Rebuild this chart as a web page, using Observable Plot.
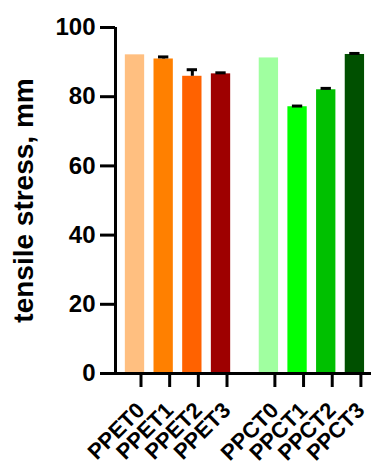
<!DOCTYPE html>
<html>
<head>
<meta charset="utf-8">
<script src="https://cdn.jsdelivr.net/npm/d3@7"></script>
<script src="https://cdn.jsdelivr.net/npm/@observablehq/plot@0.6"></script>
<style>
  html, body { margin: 0; padding: 0; background: #fff; }
</style>
</head>
<body>
<div id="chart"></div>
<script>
// ---- data ----
const labels = ["PPET0", "PPET1", "PPET2", "PPET3", "PPCT0", "PPCT1", "PPCT2", "PPCT3"];
const groups = ["PPET", "PPET", "PPET", "PPET", "PPCT", "PPCT", "PPCT", "PPCT"];
const means  = [92.1, 90.9, 85.9, 86.6, 91.2, 77.1, 82.0, 92.2];
const errors = [null, 0.6, 1.9, 0.3, null, 0.2, 0.4, 0.3];
const colors = ["#FFBF80", "#FF8000", "#FF6200", "#9E0000", "#A0FFA0", "#00FF00", "#00C000", "#005000"];
const yTicks = [0, 20, 40, 60, 80, 100];

// ---- layout (not data) ----
const groupGap = 0.67;          // extra space between the two groups, in bar steps
const barHalf = 0.337;          // half bar width, in bar steps
const capHalf = 0.18;           // half error-cap width, in bar steps
const groupOrder = ["PPET", "PPCT"];

const rows = labels.map((label, i) => ({
  label,
  group: groups[i],
  mean: means[i],
  err: errors[i],
  pos: i + groupOrder.indexOf(groups[i]) * groupGap
}));
const posToLabel = new Map(rows.map(d => [d.pos, d.label]));
const errRows = rows.filter(d => d.err != null);

const font = "'Liberation Sans', Arial, Helvetica, sans-serif";

const chart = Plot.plot({
  width: 372,
  height: 463,
  marginLeft: 115,
  marginRight: 1,
  marginTop: 27,
  marginBottom: 90,
  style: { fontFamily: font, background: "#fff", overflow: "visible" },
  x: { type: "linear", domain: [-0.68, 8.249], axis: null },
  y: { domain: [0, 100], axis: null },
  color: { type: "ordinal", domain: labels, range: colors },
  marks: [
    Plot.rectY(rows, {
      x1: d => d.pos - barHalf,
      x2: d => d.pos + barHalf,
      y: "mean",
      fill: "label"
    }),
    Plot.ruleX(errRows, { x: "pos", y1: "mean", y2: d => d.mean + d.err, stroke: "#000", strokeWidth: 3 }),
    Plot.ruleY(errRows, {
      y: d => d.mean + d.err,
      x1: d => d.pos - capHalf,
      x2: d => d.pos + capHalf,
      stroke: "#000",
      strokeWidth: 3
    }),
    Plot.axisY({
      ticks: yTicks,
      tickSize: 15,
      tickPadding: 5,
      strokeWidth: 3,
      stroke: "#000",
      fill: "#000",
      fontSize: 24,
      fontWeight: "bold",
      label: null
    }),
    Plot.axisX({
      ticks: rows.map(d => d.pos),
      tickFormat: d => posToLabel.get(d),
      tickRotate: -45,
      tickSize: 14,
      tickPadding: 19,
      dx: 6,
      strokeWidth: 3,
      stroke: "#000",
      fill: "#000",
      fontSize: 22,
      fontWeight: "bold",
      label: null
    }),
    Plot.ruleX([-0.68], { stroke: "#000", strokeWidth: 3 }),
    Plot.ruleY([0], { stroke: "#000", strokeWidth: 3 }),
    Plot.text(["tensile stress, mm"], {
      frameAnchor: "left",
      textAnchor: "middle",
      rotate: -90,
      dx: -91,
      fontSize: 28,
      fontWeight: "bold",
      fill: "#000"
    })
  ]
});
document.getElementById("chart").appendChild(chart);
</script>
</body>
</html>
